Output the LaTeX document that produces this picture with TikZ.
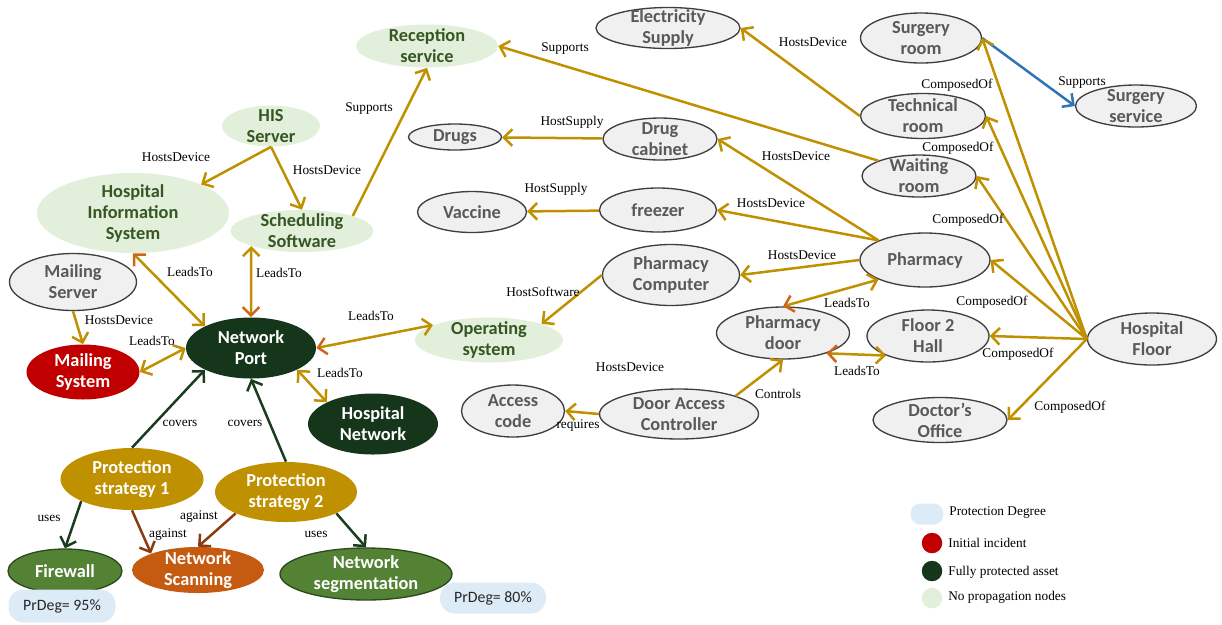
\documentclass[tikz,border=0pt]{standalone}
\usepackage{fontspec}
\newfontfamily\nodefont{Carlito}
\newfontfamily\labelfont{Liberation Serif}
\usepackage{xcolor}
\usepackage{tikz}
\usetikzlibrary{
    arrows.meta,
    shapes.geometric
}
\definecolor{edgegold}{HTML}{BF9000}
\definecolor{tiporange}{HTML}{D0651A}
\definecolor{covergreen}{HTML}{1B3D1F}
\definecolor{againstbrown}{HTML}{8A3B12}
\definecolor{supportblue}{HTML}{2E75B6}
\definecolor{assetfill}{HTML}{F0F0F0}
\definecolor{assetdraw}{HTML}{3F3F3F}
\definecolor{assettext}{HTML}{595959}
\definecolor{nopropfill}{HTML}{E2EFDA}
\definecolor{noproptext}{HTML}{375623}
\definecolor{incidentred}{HTML}{C00000}
\definecolor{protectedgreen}{HTML}{15361A}
\definecolor{strategygold}{HTML}{BF9000}
\definecolor{measuregreen}{HTML}{548235}
\definecolor{measuredraw}{HTML}{2C4A1C}
\definecolor{threatorange}{HTML}{C55A11}
\definecolor{degblue}{HTML}{DDEBF7}
\tikzset{
    barb/.tip={Straight Barb[length=5pt,width=10pt]}
}
\tikzset{
    entity/.style={
        ellipse,
        inner xsep=0pt,
        inner ysep=-3pt,
        align=center,
        font=\nodefont\fontsize{11}{12.6}\selectfont\bfseries
    }
}
\tikzset{
    asset/.style={
        entity,
        draw=assetdraw,
        line width=0.8pt,
        fill=assetfill,
        text=assettext
    }
}
\tikzset{
    nopropag/.style={
        entity,
        fill=nopropfill,
        text=noproptext
    }
}
\tikzset{
    incident/.style={
        entity,
        fill=incidentred,
        text=white
    }
}
\tikzset{
    protected/.style={
        entity,
        fill=protectedgreen,
        text=white
    }
}
\tikzset{
    strategy/.style={
        entity,
        fill=strategygold,
        text=white
    }
}
\tikzset{
    measure/.style={
        entity,
        draw=measuredraw,
        line width=0.8pt,
        fill=measuregreen,
        text=white
    }
}
\tikzset{
    threat/.style={
        entity,
        fill=threatorange,
        text=white
    }
}
\tikzset{
    prdeg/.style={
        rectangle,
        rounded corners=9pt,
        fill=degblue,
        text=black!85,
        inner sep=0pt,
        font=\nodefont\fontsize{9.5}{11}\selectfont
    }
}
\tikzset{
    rel/.style={
        draw=edgegold,
        line width=1.5pt,
        -{barb}
    }
}
\tikzset{
    leads/.style={
        rel,
        {barb}-{barb}
    }
}
\tikzset{
    hotlead/.style={
        rel,
        {barb[color=tiporange]}-{barb}
    }
}
\tikzset{
    cover/.style={
        draw=covergreen,
        line width=1.5pt,
        -{barb}
    }
}
\tikzset{
    against/.style={
        draw=againstbrown,
        line width=1.5pt,
        -{barb}
    }
}
\tikzset{
    support/.style={
        draw=supportblue,
        line width=1.5pt,
        -{barb}
    }
}
\tikzset{
    rellabel/.style={
        font=\labelfont\fontsize{8}{9.5}\selectfont,
        inner sep=0pt
    }
}
\tikzset{
    legendmark/.style={
        circle,
        minimum size=12.3pt,
        inner sep=0pt
    }
}
\tikzset{
    legendtext/.style={
        anchor=west,
        font=\labelfont\fontsize{8}{9.5}\selectfont,
        inner sep=0pt
    }
}

\begin{document}
\begin{tikzpicture}[
    x=0.6pt,
    y=-0.6pt
]
\useasboundingbox (0,0) rectangle (1222,624);

% ------------------------------------------------------------
% Information system side
% ------------------------------------------------------------

\node[nopropag, minimum width=58.8pt, minimum height=24.6pt] (hisserver) at (271,126) {HIS\\Server};
\node[nopropag, minimum width=115.2pt, minimum height=48pt] (his) at (133,213) {Hospital\\Information\\System};
\node[nopropag, minimum width=85.8pt, minimum height=25.2pt] (sched) at (302,231) {Scheduling\\Software};
\node[nopropag, minimum width=85.2pt, minimum height=25.8pt] (recept) at (427,46) {Reception\\service};
\node[asset, minimum width=76.2pt, minimum height=34.2pt] (mserver) at (73,282) {Mailing\\Server};
\node[incident, minimum width=67.8pt, minimum height=33pt] (msystem) at (83,372) {Mailing\\System};
\node[protected, minimum width=78pt, minimum height=36.6pt] (np) at (251,348) {Network\\Port};
\node[protected, minimum width=78pt, minimum height=36.6pt] (hnet) at (373,424) {Hospital\\Network};
\node[nopropag, minimum width=88.8pt, minimum height=27pt] (os) at (489,340) {Operating\\system};

% ------------------------------------------------------------
% Protection strategies
% ------------------------------------------------------------

\node[strategy, minimum width=85.8pt, minimum height=37.2pt] (ps1) at (132,479) {Protection\\strategy 1};
\node[strategy, minimum width=85.2pt, minimum height=36pt] (ps2) at (286,492) {Protection\\strategy 2};
\node[measure, minimum width=68.4pt, minimum height=26.4pt] (firewall) at (65,571) {Firewall};
\node[threat, minimum width=79.2pt, minimum height=27.6pt] (nscan) at (198,570) {Network\\Scanning};
\node[measure, minimum width=103.2pt, minimum height=31.2pt] (nseg) at (366,574) {Network\\segmentation};
\node[prdeg, minimum width=64.2pt, minimum height=19.8pt] (prdeg1) at (62,606) {PrDeg= 95\%};
\node[prdeg, minimum width=63.6pt, minimum height=18.6pt] (prdeg2) at (493,598) {PrDeg= 80\%};

% ------------------------------------------------------------
% Physical side
% ------------------------------------------------------------

\node[asset, minimum width=86.4pt, minimum height=24.6pt] (elec) at (668,28) {Electricity\\Supply};
\node[asset, minimum width=55.8pt, minimum height=15.6pt] (drugs) at (455,137) {Drugs};
\node[asset, minimum width=68.4pt, minimum height=25.2pt] (dcab) at (660,139) {Drug\\cabinet};
\node[asset, minimum width=65.4pt, minimum height=24.6pt] (vaccine) at (472,212) {Vaccine};
\node[asset, minimum width=70.2pt, minimum height=26.4pt] (freezer) at (658,210) {freezer};
\node[asset, minimum width=82.2pt, minimum height=36.6pt] (pcomp) at (671,275) {Pharmacy\\Computer};
\node[asset, minimum width=79.8pt, minimum height=31.2pt] (pdoor) at (783,333) {Pharmacy\\door};
\node[asset, minimum width=61.8pt, minimum height=31.2pt] (acode) at (513,411) {Access\\code};
\node[asset, minimum width=95.4pt, minimum height=30pt] (dac) at (679,414) {Door Access\\Controller};
\node[asset, minimum width=72.6pt, minimum height=30pt] (sroom) at (921,38) {Surgery\\room};
\node[asset, minimum width=72.6pt, minimum height=25.2pt] (sserv) at (1136,106) {Surgery\\service};
\node[asset, minimum width=75pt, minimum height=27pt] (troom) at (923,116) {Technical\\room};
\node[asset, minimum width=68.4pt, minimum height=25.2pt] (wroom) at (919,176) {Waiting\\room};
\node[asset, minimum width=78pt, minimum height=32.4pt] (pharmacy) at (925,260) {Pharmacy};
\node[asset, minimum width=73.2pt, minimum height=31.2pt] (f2hall) at (928,336) {Floor 2\\Hall};
\node[asset, minimum width=77.4pt, minimum height=31.2pt] (hfloor) at (1152,339) {Hospital\\Floor};
\node[asset, minimum width=80.4pt, minimum height=27pt] (doffice) at (940,420) {Doctor’s\\Office};

% ------------------------------------------------------------
% Relations
% ------------------------------------------------------------

\draw[rel] (hisserver.south) -- (his.north east) node[rellabel] (lbhis) at (176,157) {HostsDevice};
\draw[rel] (hisserver.south) -- (sched.north) node[rellabel] (lbsched) at (327,170) {HostsDevice};
\draw[rel] (sched.north east) -- (recept.south) node[rellabel] (lbrecept) at (369,108) {Supports};
\draw[rel] (wroom.north west) -- (recept.east) node[rellabel] (lbwroom) at (565,48) {Supports};
\draw[rel] (troom.west) -- (elec.east) node[rellabel] (lbelec) at (813,42) {HostsDevice};
\draw[support] (sroom.east) -- (sserv.west) node[rellabel] (lbsserv) at (1082,82) {Supports};
\draw[rel] (mserver.south) -- (msystem.north) node[rellabel] (lbmail) at (119,320) {HostsDevice};

\draw[hotlead] (his.south) -- (np.north west) node[rellabel] (lbnphis) at (190,272) {LeadsTo};
\draw[hotlead] (np.north) -- (sched.south west) node[rellabel] (lbnpsched) at (279,273) {LeadsTo};
\draw[leads] (np.west) -- (msystem.east) node[rellabel] (lbnpmail) at (152,341) {LeadsTo};
\draw[hotlead] (np.east) -- (os.165) node[rellabel] (lbnpos) at (371,316) {LeadsTo};
\draw[leads] (np.south east) -- (hnet.north west) node[rellabel] (lbnphnet) at (340,373) {LeadsTo};

\draw[cover] (ps1.north) -- (np.south west) node[rellabel] (lbcov1) at (180,423) {covers};
\draw[cover] (ps2.north) -- (np.south) node[rellabel] (lbcov2) at (245,423) {covers};
\draw[cover] (ps1.south west) -- (firewall.north) node[rellabel] (lbuse1) at (49,518) {uses};
\draw[against] (ps1.south) -- (nscan.north west) node[rellabel] (lbag1) at (168,535) {against};
\draw[against] (ps2.south west) -- (nscan.north) node[rellabel] (lbag2) at (199,517) {against};
\draw[cover] (ps2.south east) -- (nseg.north) node[rellabel] (lbuse2) at (316,534) {uses};

\draw[rel] (dcab) -- (drugs) node[rellabel] (lbdrugs) at (572,122) {HostSupply};
\draw[rel] (freezer) -- (vaccine) node[rellabel] (lbvacc) at (556,189) {HostSupply};
\draw[rel] (pharmacy.north west) -- (dcab.east) node[rellabel] (lbdcab) at (796,156) {HostsDevice};
\draw[rel] (pharmacy.north west) -- (freezer.east) node[rellabel] (lbfreezer) at (771,203) {HostsDevice};
\draw[rel] (pharmacy.west) -- (pcomp.east) node[rellabel] (lbpcomp) at (802,255) {HostsDevice};
\draw[rel] (pcomp.west) -- (os.north east) node[rellabel] (lbos) at (543,292) {HostSoftware};
\draw[hotlead] (pdoor.north) -- (pharmacy.south west) node[rellabel] (lbpdoor) at (847,303) {LeadsTo};
\draw[hotlead] (pdoor.-25) -- (f2hall.205) node[rellabel] (lbf2hall) at (857,371) {LeadsTo};
\draw[rel] (dac.north east) -- (pdoor.south) node[rellabel] (lbctrl) at (778,394) {Controls};
\draw[rel] (dac.west) -- (acode.east) node[rellabel] (lbreq) at (578,425) {requires};
\node[rellabel] (lbfloat) at (630,367) {HostsDevice};

\foreach \room/\lx/\ly in {sroom/957/85, troom/958/148, wroom/968/220, pharmacy/992/302, f2hall/1018/354, doffice/1070/407} {
    \draw[rel] (hfloor.west) -- (\room.east) node[rellabel] at (\lx,\ly) {ComposedOf};
}

% ------------------------------------------------------------
% Legend
% ------------------------------------------------------------

\node[rectangle, rounded corners=6pt, fill=degblue, minimum width=19.8pt, minimum height=12.6pt, inner sep=0pt] (lgdeg) at (927,514) {};
\node[legendtext] (lgdegtxt) at (949,513) {Protection Degree};
\node[legendmark, fill=incidentred] (lginc) at (932,543) {};
\node[legendtext] (lginctxt) at (948,543) {Initial incident};
\node[legendmark, fill=protectedgreen] (lgprot) at (932,571) {};
\node[legendtext] (lgprottxt) at (948,572) {Fully protected asset};
\node[legendmark, fill=nopropfill] (lgnoprop) at (932,598) {};
\node[legendtext] (lgnoproptxt) at (948,597) {No propagation nodes};

\end{tikzpicture}
\end{document}
